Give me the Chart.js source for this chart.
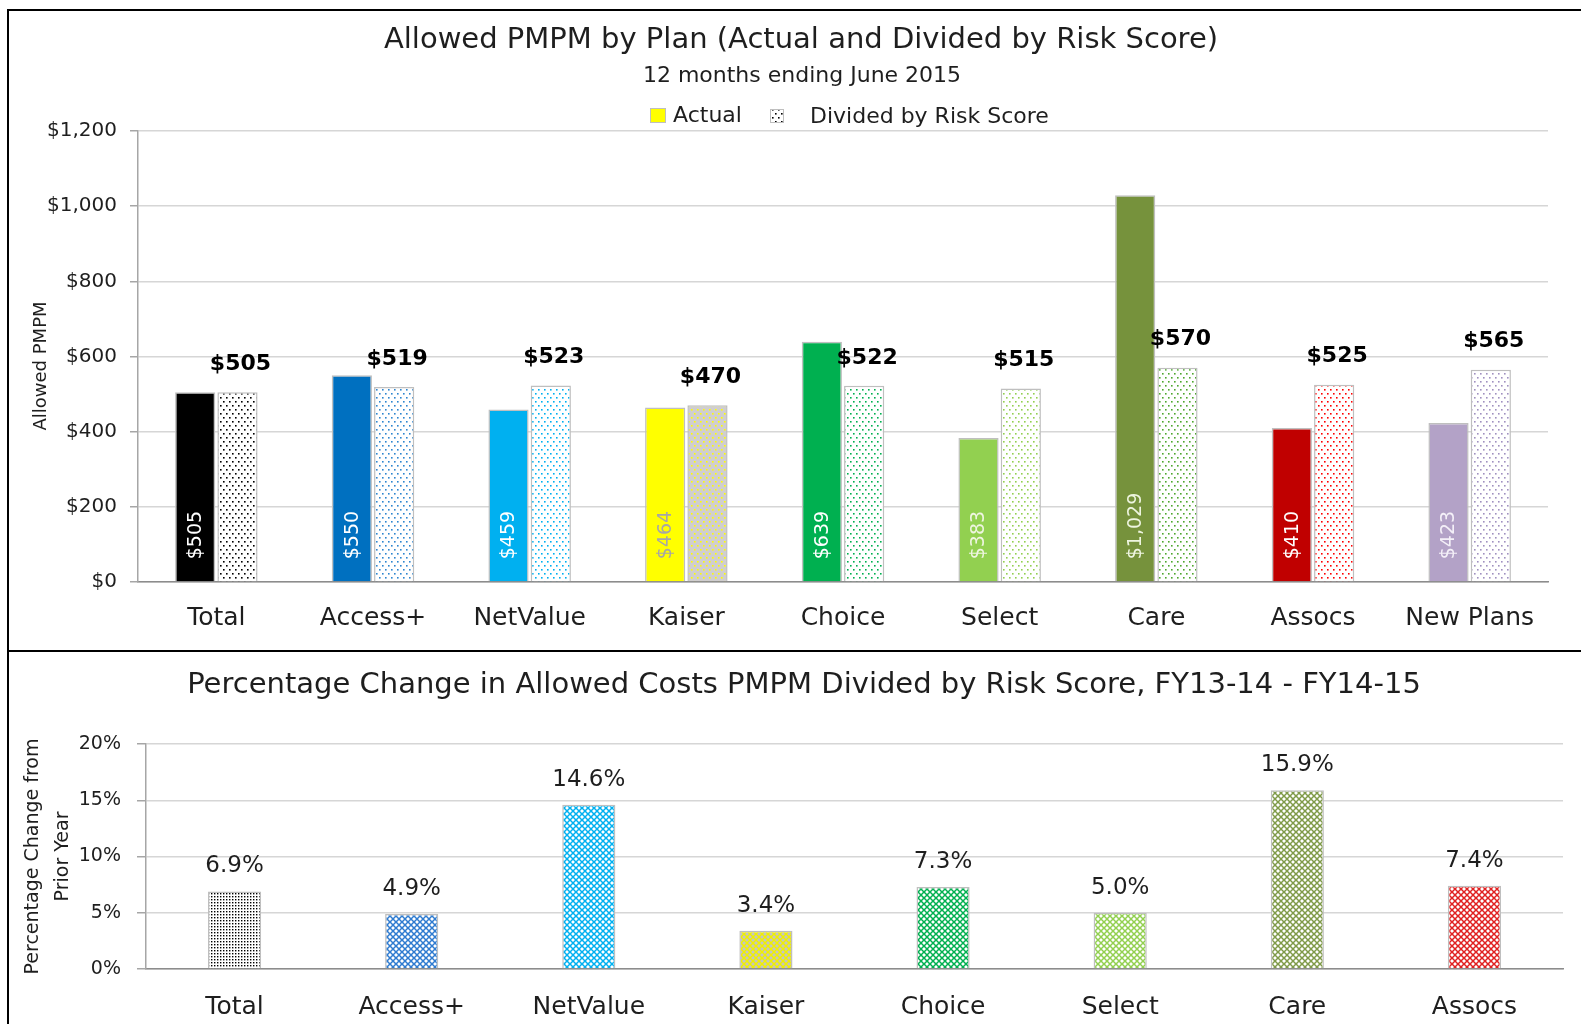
<!DOCTYPE html>
<html><head><meta charset="utf-8">
<script src="https://cdn.jsdelivr.net/npm/chart.js@4.4.0/dist/chart.umd.min.js"></script>
<style>
html,body{margin:0;padding:0;background:#fff;width:1581px;height:1024px;overflow:hidden;}
#c1{position:absolute;left:0;top:0;}
#c2{position:absolute;left:0;top:652px;}
.ln{position:absolute;background:#000;z-index:5;}
</style></head><body>
<canvas id="c1" width="1581" height="651"></canvas>
<canvas id="c2" width="1581" height="372"></canvas>
<div class="ln" style="left:7px;top:9px;width:1574px;height:2px"></div>
<div class="ln" style="left:7px;top:9px;width:2px;height:1015px"></div>
<div class="ln" style="left:7px;top:650px;width:1574px;height:2px"></div>
<script>
// ---------- DATA ----------
const plans = ['Total','Access+','NetValue','Kaiser','Choice','Select','Care','Assocs','New Plans'];
const actualPMPM = [505,550,459,464,639,383,1029,410,423];
const riskAdjPMPM = [505,519,523,470,522,515,570,525,565];
const changePlans = ['Total','Access+','NetValue','Kaiser','Choice','Select','Care','Assocs'];
const pctChange = [6.9,4.9,14.6,3.4,7.3,5.0,15.9,7.4];

// ---------- STYLES ----------
const FONT = '"DejaVu Sans"';
const TXT = '#1E1E1E';
const actualColors = ['#000000','#0070C0','#00B0F0','#FFFF00','#00B050','#92D050','#76923C','#C00000','#B3A2C7'];
const innerLabelColors = ['#FFFFFF','#FFFFFF','#FFFFFF','#A6A6A6','#FFFFFF','#EEF5E0','#EEF5E0','#FFFFFF','#F4F0F8'];
const dotColors = ['#000000','#2E86D0','#00B0F0','#FFFF00','#00B050','#92D050','#4EA72E','#FF0000','#A090C0'];
const dotBg = ['#FFFFFF','#FFFFFF','#FFFFFF','#D0CECE','#FFFFFF','#FFFFFF','#FFFFFF','#FFFFFF','#FFFFFF'];
const latticeFg = ['#000000','#2E7BD0','#00B0F0','#F0F000','#00B050','#92D050','#7F9A48','#E02020'];
const latticeBg = ['#FFFFFF','#FFFFFF','#FFFFFF','#C4C4C4','#FFFFFF','#FFFFFF','#FFFFFF','#FFFFFF'];

function dotPattern(fg,bg){
  const c=document.createElement('canvas'); c.width=6; c.height=8;
  const x=c.getContext('2d'); x.fillStyle=bg; x.fillRect(0,0,6,8);
  x.fillStyle=fg; x.fillRect(1,1,1.6,1.6); x.fillRect(4,5,1.6,1.6);
  return x.createPattern(c,'repeat');
}
function densePattern(fg,bg){
  const c=document.createElement('canvas'); c.width=3; c.height=3;
  const x=c.getContext('2d'); x.fillStyle=bg; x.fillRect(0,0,3,3);
  x.fillStyle=fg; x.fillRect(1,1,1.4,1.4);
  return x.createPattern(c,'repeat');
}
function latticePattern(fg,bg){
  const c=document.createElement('canvas'); c.width=6; c.height=6;
  const x=c.getContext('2d'); x.fillStyle=bg; x.fillRect(0,0,6,6);
  x.strokeStyle=fg; x.lineWidth=1.5;
  x.beginPath();
  x.moveTo(-1,-1); x.lineTo(7,7);
  x.moveTo(7,-1); x.lineTo(-1,7);
  x.stroke();
  return x.createPattern(c,'repeat');
}
const dividedFills = dotColors.map((c,i)=>dotPattern(c,dotBg[i]));
const changeFills = latticeFg.map((c,i)=> i===0 ? densePattern('#000000','#FFFFFF') : latticePattern(c,latticeBg[i]));

const money = v => '$' + v.toLocaleString('en-US');

// ---------- TOP CHART ----------
const topPlugin = {
  id:'topPlugin',
  afterDatasetsDraw(chart){
    const ctx=chart.ctx;
    const m0=chart.getDatasetMeta(0), m1=chart.getDatasetMeta(1);
    m0.data.forEach((bar,i)=>{
      ctx.save();
      ctx.translate(bar.x+1, bar.base-22);
      ctx.rotate(-Math.PI/2);
      ctx.font='19px '+FONT;
      ctx.fillStyle=innerLabelColors[i];
      ctx.textAlign='left'; ctx.textBaseline='middle';
      ctx.fillText(money(actualPMPM[i]),0,0);
      ctx.restore();
    });
    ctx.save();
    ctx.font='bold 22px '+FONT; ctx.fillStyle='#000';
    ctx.textAlign='center'; ctx.textBaseline='middle';
    m1.data.forEach((bar,i)=>{ ctx.fillText(money(riskAdjPMPM[i]), bar.x+3, bar.y-28); });
    ctx.restore();
  },
  afterDraw(chart){
    const ctx=chart.ctx;
    ctx.save();
    ctx.fillStyle=TXT; ctx.textAlign='center'; ctx.textBaseline='middle';
    ctx.font='29px '+FONT;
    ctx.fillText('Allowed PMPM by Plan (Actual and Divided by Risk Score)',801,40);
    ctx.font='22px '+FONT;
    ctx.fillText('12 months ending June 2015',802,76);
    // y axis title
    ctx.save();
    ctx.translate(41,366); ctx.rotate(-Math.PI/2);
    ctx.font='18px '+FONT;
    ctx.fillText('Allowed PMPM',0,0);
    ctx.restore();
    // legend
    ctx.textAlign='left';
    ctx.fillStyle='#FFFF00'; ctx.fillRect(650,108,16,15);
    ctx.strokeStyle='#BFBFBF'; ctx.lineWidth=1; ctx.strokeRect(650.5,108.5,15,14);
    ctx.fillStyle=dotPattern('#000000','#FFFFFF'); ctx.fillRect(770,109,14,14);
    ctx.strokeRect(770.5,109.5,13,13);
    ctx.fillStyle=TXT; ctx.font='22px '+FONT;
    ctx.fillText('Actual',673,116);
    ctx.fillText('Divided by Risk Score',810,117);
    ctx.restore();
  }
};

new Chart(document.getElementById('c1'),{
  type:'bar',
  data:{labels:plans,datasets:[
    {label:'Actual',data:actualPMPM,backgroundColor:actualColors,borderColor:'#BFBFBF',borderWidth:1.5,
     categoryPercentage:0.54,barPercentage:0.95},
    {label:'Divided by Risk Score',data:riskAdjPMPM,backgroundColor:dividedFills,borderColor:'#BFBFBF',borderWidth:1.5,
     categoryPercentage:0.54,barPercentage:0.95}
  ]},
  options:{
    responsive:false,animation:false,
    layout:{padding:{top:131,right:33,bottom:19,left:0}},
    plugins:{legend:{display:false},tooltip:{enabled:false}},
    scales:{
      x:{grid:{display:false},border:{display:true,color:'#8C8C8C',width:1.5},
         ticks:{color:TXT,font:{family:'DejaVu Sans',size:25},padding:13,maxRotation:0,autoSkip:false},
         afterFit(s){s.height=50;}},
      y:{min:0,max:1200,
         grid:{color:'#D6D6D6',lineWidth:1.5,tickLength:8,tickColor:'#A6A6A6'},
         border:{display:true,color:'#A6A6A6',width:1.5},
         ticks:{stepSize:200,padding:13,color:TXT,font:{family:'DejaVu Sans',size:20},callback:v=>money(v)},
         afterFit(s){s.width=138;}}
    }
  },
  plugins:[topPlugin]
});

// ---------- BOTTOM CHART ----------
const bottomPlugin = {
  id:'bottomPlugin',
  afterDatasetsDraw(chart){
    const ctx=chart.ctx;
    const m=chart.getDatasetMeta(0);
    ctx.save();
    ctx.font='23px '+FONT; ctx.fillStyle=TXT;
    ctx.textAlign='center'; ctx.textBaseline='middle';
    m.data.forEach((bar,i)=>{ ctx.fillText(pctChange[i].toFixed(1)+'%', bar.x, bar.y-25); });
    ctx.restore();
  },
  afterDraw(chart){
    const ctx=chart.ctx;
    ctx.save();
    ctx.fillStyle=TXT; ctx.textAlign='center'; ctx.textBaseline='middle';
    ctx.font='29px '+FONT;
    ctx.fillText('Percentage Change in Allowed Costs PMPM Divided by Risk Score, FY13-14 - FY14-15',804,33);
    ctx.restore();
  }
};

new Chart(document.getElementById('c2'),{
  type:'bar',
  data:{labels:changePlans,datasets:[
    {label:'Percentage Change',data:pctChange,backgroundColor:changeFills,borderColor:'#BFBFBF',borderWidth:1.5,
     categoryPercentage:0.30,barPercentage:1}
  ]},
  options:{
    responsive:false,animation:false,
    layout:{padding:{top:92,right:18,bottom:2,left:0}},
    plugins:{legend:{display:false},tooltip:{enabled:false}},
    scales:{
      x:{grid:{display:false},border:{display:true,color:'#8C8C8C',width:1.5},
         ticks:{color:TXT,font:{family:'DejaVu Sans',size:25},padding:15,maxRotation:0,autoSkip:false},
         afterFit(s){s.height=53;}},
      y:{min:0,max:20,
         grid:{color:'#D6D6D6',lineWidth:1.5,tickLength:9,tickColor:'#A6A6A6'},
         border:{display:true,color:'#A6A6A6',width:1.5},
         ticks:{stepSize:5,padding:16,color:TXT,font:{family:'DejaVu Sans',size:19},callback:v=>v+'%'},
         title:{display:true,text:['Percentage Change from','Prior Year'],color:TXT,
                font:{family:'DejaVu Sans',size:19,lineHeight:1.58},padding:{top:18,bottom:0}},
         afterFit(s){s.width=146;}}
    }
  },
  plugins:[bottomPlugin]
});
</script>
</body></html>
